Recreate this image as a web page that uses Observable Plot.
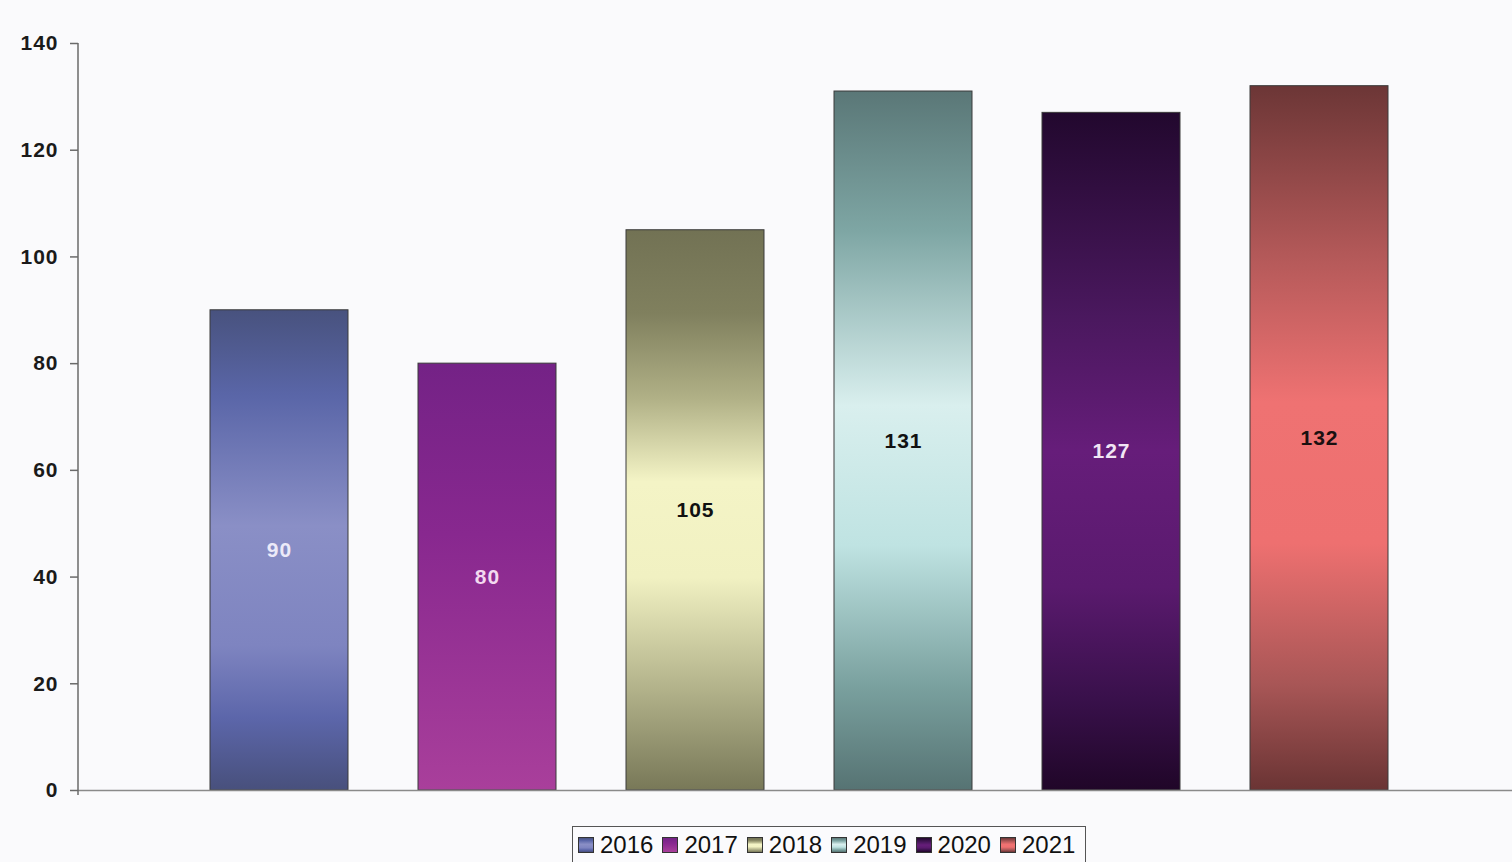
<!DOCTYPE html>
<html>
<head>
<meta charset="utf-8">
<script src="https://cdn.jsdelivr.net/npm/d3@7"></script>
<script src="https://cdn.jsdelivr.net/npm/@observablehq/plot@0.6"></script>
<style>
  html, body { margin: 0; padding: 0; background: #fafafc; overflow: hidden; }
  #chart { position: relative; width: 1512px; height: 862px; }
  #chart svg text { letter-spacing: 1px; }
  #legend {
    position: absolute; left: 572px; top: 826px; width: 514px; height: 44px;
    border: 1.5px solid #555; background: #fbfbfd; box-sizing: border-box;
    display: flex; align-items: flex-start; padding: 4px 0 0 5px;
    font-family: "Liberation Sans", Arial, sans-serif; font-size: 24px; color: #111;
  }
  .item { display: flex; align-items: center; margin-right: 9px; line-height: 28px; }
  .sw { width: 16px; height: 16px; border: 1.5px solid #333; box-sizing: border-box; margin-right: 6px; }
</style>
</head>
<body>
<div id="chart"></div>
<script>
// Data
const years = ["2016", "2017", "2018", "2019", "2020", "2021"];
const values = [90, 80, 105, 131, 127, 132];
const yTicks = [0, 20, 40, 60, 80, 100, 120, 140];
const labelColors = ["#eceaf8", "#f3d9f0", "#111111", "#111111", "#f1e6f4", "#1a1010"];
// vertical gradient stops per year (top -> bottom)
const gradients = [
  [[0, "#48527e"], [0.18, "#5a66a8"], [0.45, "#8a8fc6"], [0.7, "#7e84c0"], [0.85, "#5c66aa"], [1, "#48507c"]],
  [[0, "#742286"], [0.4, "#88288f"], [1, "#a93f9b"]],
  [[0, "#727254"], [0.15, "#80805e"], [0.3, "#b0b086"], [0.45, "#f4f4c6"], [0.62, "#f1f1c2"], [0.82, "#b2b28a"], [1, "#787858"]],
  [[0, "#5a7777"], [0.2, "#7ea6a4"], [0.45, "#d9efee"], [0.65, "#bfe3e2"], [0.85, "#7aa19f"], [1, "#567373"]],
  [[0, "#22082e"], [0.3, "#4a185e"], [0.5, "#661d7a"], [0.7, "#5a1a6e"], [0.87, "#38104a"], [1, "#200628"]],
  [[0, "#6c3636"], [0.25, "#b65a5a"], [0.45, "#ef7272"], [0.65, "#ee7070"], [0.85, "#a85656"], [1, "#6a3434"]]
];

const data = years.map((y, i) => ({year: y, value: values[i], labelColor: labelColors[i]}));
const gradIds = years.map((y) => `grad${y}`);

function defsMark() {
  const defs = d3.create("svg:defs");
  years.forEach((y, i) => {
    const g = defs.append("linearGradient").attr("id", gradIds[i])
      .attr("x1", 0).attr("y1", 0).attr("x2", 0).attr("y2", 1);
    gradients[i].forEach(([o, c]) => g.append("stop").attr("offset", o).attr("stop-color", c));
  });
  return defs.node();
}

function axisLineMark(index, scales, values, dimensions) {
  const x = dimensions.marginLeft;
  const y1 = scales.y(140);
  const y2 = scales.y(0) + 5;
  return d3.create("svg:line").attr("x1", x).attr("x2", x).attr("y1", y1).attr("y2", y2)
    .attr("stroke", "#6a6a6a").attr("stroke-width", 1.5).node();
}

const plot = Plot.plot({
  width: 1512,
  height: 815,
  marginTop: 43,
  marginBottom: 25,
  marginLeft: 78,
  marginRight: 0,
  style: {background: "transparent", fontFamily: "'Liberation Sans', Arial, sans-serif"},
  x: {domain: years, paddingInner: 0.3365, paddingOuter: 0.168, insetLeft: 97, insetRight: 89, axis: null},
  y: {domain: [0, 140], axis: null},
  color: {domain: years, range: gradIds.map((id) => `url(#${id})`)},
  marks: [
    defsMark,
    Plot.barY(data, {x: "year", y: "value", fill: "year", stroke: "#3a3a3a", strokeWidth: 1}),
    Plot.ruleY([0], {stroke: "#8a8a8a", strokeWidth: 1.5}),
    axisLineMark,
    Plot.axisY({ticks: yTicks, tickSize: 8, tickPadding: 12, fontSize: 21, fontWeight: "bold", stroke: "#6a6a6a", strokeWidth: 1.5, color: "#1a1a1a", label: null}),
    Plot.text(data, {x: "year", y: (d) => d.value / 2, text: (d) => String(d.value), fill: "labelColor", fontSize: 21, fontWeight: "bold"})
  ]
});

const chart = document.getElementById("chart");
chart.appendChild(plot);

const legend = document.createElement("div");
legend.id = "legend";
years.forEach((y, i) => {
  const item = document.createElement("div");
  item.className = "item";
  const sw = document.createElement("div");
  sw.className = "sw";
  const st = gradients[i].map(([o, c]) => `${c} ${o * 100}%`).join(", ");
  sw.style.background = `linear-gradient(to bottom, ${st})`;
  const t = document.createElement("span");
  t.textContent = y;
  item.appendChild(sw);
  item.appendChild(t);
  legend.appendChild(item);
});
chart.appendChild(legend);
</script>
</body>
</html>
